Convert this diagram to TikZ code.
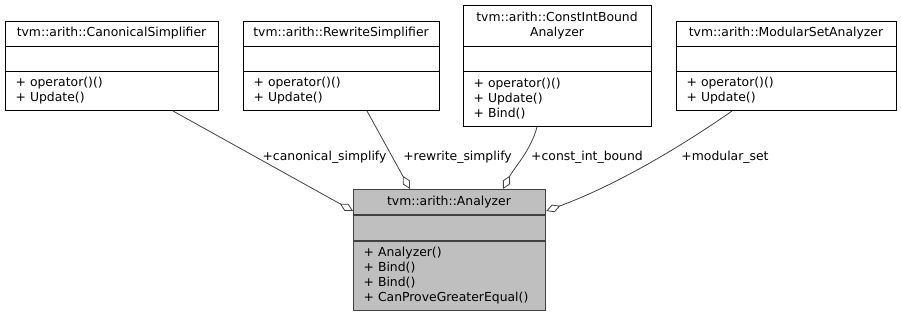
\documentclass[tikz,border=0pt]{standalone}
\usepackage{fontspec}
\setmainfont{DejaVu Sans}
\usetikzlibrary{arrows.meta}

\newcommand{\umlfont}{\fontsize{12.4}{15}\selectfont}

\tikzset{
  classbox/.style={draw=black, line width=1pt, fill=white, anchor=north west, inner sep=0pt},
  focusbox/.style={classbox, draw=black!75, line width=1.2pt, fill=black!25},
  classname/.style={align=center, inner sep=0pt, font=\umlfont},
  members/.style={anchor=west, align=left, inner sep=0pt, font=\umlfont},
  role/.style={inner sep=0pt, font=\umlfont},
  agg/.style={draw=black!75, line width=0.8pt, -{Diamond[fill=white,length=15pt,width=8pt]}},
}

\begin{document}
\begin{tikzpicture}[x=1pt, y=-1pt]
  \useasboundingbox (0,0) rectangle (901,316);

  % member classes
  \node[classbox, minimum width=213, minimum height=89] (canon) at (5,21) {};
  \draw ([yshift=-25pt]canon.north west) -- ([yshift=-25pt]canon.north east);
  \draw ([yshift=-50pt]canon.north west) -- ([yshift=-50pt]canon.north east);
  \node[classname] (canonName) at (111.5,33.5) {tvm::arith::CanonicalSimplifier};
  \node[members] (canonOps) at (15.5,90.5) {+ operator()()\\+ Update()};

  \node[classbox, minimum width=196, minimum height=89] (rewrite) at (243,21) {};
  \draw ([yshift=-25pt]rewrite.north west) -- ([yshift=-25pt]rewrite.north east);
  \draw ([yshift=-50pt]rewrite.north west) -- ([yshift=-50pt]rewrite.north east);
  \node[classname] (rewriteName) at (341,33.5) {tvm::arith::RewriteSimplifier};
  \node[members] (rewriteOps) at (253.5,90.5) {+ operator()()\\+ Update()};

  \node[classbox, minimum width=188, minimum height=121] (bound) at (463,5) {};
  \draw ([yshift=-41pt]bound.north west) -- ([yshift=-41pt]bound.north east);
  \draw ([yshift=-66pt]bound.north west) -- ([yshift=-66pt]bound.north east);
  \node[classname] (boundName) at (557,25.5) {tvm::arith::ConstIntBound\\Analyzer};
  \node[members] (boundOps) at (473.5,98.5) {+ operator()()\\+ Update()\\+ Bind()};

  \node[classbox, minimum width=220, minimum height=89] (modset) at (676,21) {};
  \draw ([yshift=-25pt]modset.north west) -- ([yshift=-25pt]modset.north east);
  \draw ([yshift=-50pt]modset.north west) -- ([yshift=-50pt]modset.north east);
  \node[classname] (modsetName) at (786,33.5) {tvm::arith::ModularSetAnalyzer};
  \node[members] (modsetOps) at (686.5,90.5) {+ operator()()\\+ Update()};

  % the analyzer itself
  \node[focusbox, minimum width=192, minimum height=121] (ana) at (353,189) {};
  \draw[draw=black!75, line width=1.2pt] ([yshift=-26pt]ana.north west) -- ([yshift=-26pt]ana.north east);
  \draw[draw=black!75, line width=1.2pt] ([yshift=-52pt]ana.north west) -- ([yshift=-52pt]ana.north east);
  \node[classname] (anaName) at (449,202) {tvm::arith::Analyzer};
  \node[members] (anaOps) at (363.5,275.5) {+ Analyzer()\\+ Bind()\\+ Bind()\\+ CanProveGreaterEqual()};

  % aggregations
  \draw[agg] ([xshift=-46pt]canon.south east) -- ([yshift=-22pt]ana.north west);
  \draw[agg] ([xshift=124pt]rewrite.south west) -- ([xshift=57pt]ana.north west);
  \draw[agg] ([xshift=74pt]bound.south west) .. controls (531,150) and (514,168) .. ([xshift=150pt]ana.north west);
  \draw[agg] ([xshift=56pt]modset.south west) .. controls (705,130) and (630,180) .. ([yshift=-22pt]ana.north east);

  \node[role] (canonRole) at (324.5,157) {+canonical\_simplify};
  \node[role] (rewriteRole) at (457.5,157) {+rewrite\_simplify};
  \node[role] (boundRole) at (587,157) {+const\_int\_bound};
  \node[role] (modsetRole) at (725,157) {+modular\_set};
\end{tikzpicture}
\end{document}
